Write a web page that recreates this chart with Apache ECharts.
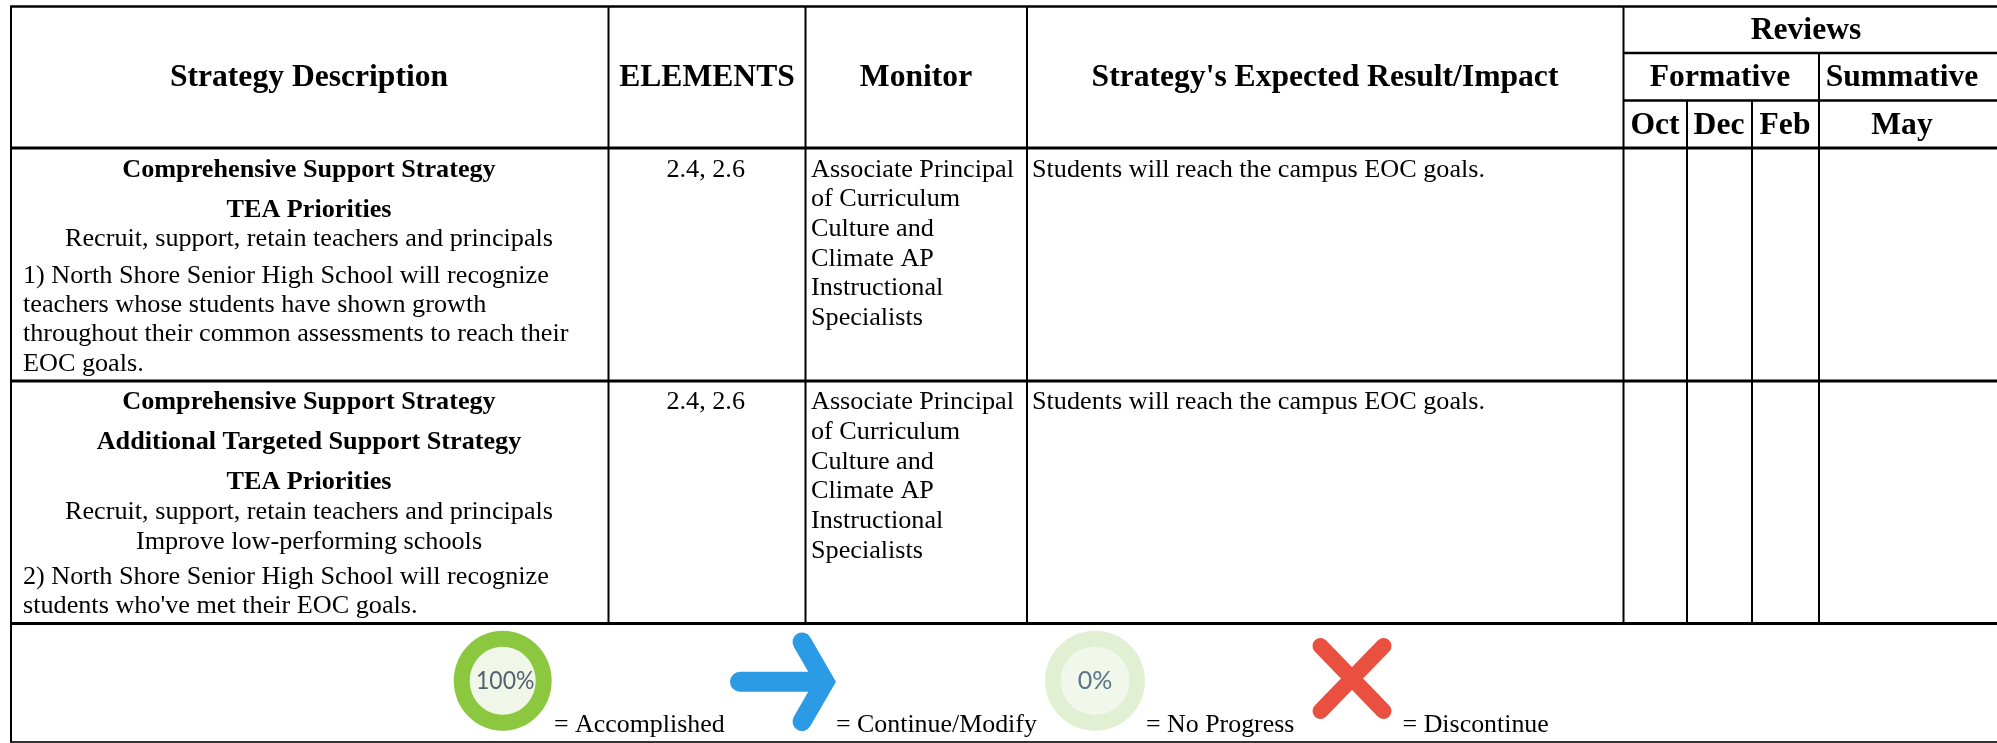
<!DOCTYPE html>
<html>
<head>
<meta charset="utf-8">
<style>html,body{margin:0;padding:0;background:#fff}#c{width:1997px;height:743px}</style>
<script src="https://cdn.jsdelivr.net/npm/echarts@6/dist/echarts.min.js"></script>
</head>
<body>
<div id="c"></div>
<script>
// ---- content ----
var headerLabels = ["Strategy Description","ELEMENTS","Monitor","Strategy's Expected Result/Impact"];
var reviewLabels = ["Reviews","Formative","Summative","Oct","Dec","Feb","May"];
var row1Strategy = ["Comprehensive Support Strategy","TEA Priorities","Recruit, support, retain teachers and principals"];
var row1Text = ["1) North Shore Senior High School will recognize","teachers whose students have shown growth","throughout their common assessments to reach their","EOC goals."];
var row2Strategy = ["Comprehensive Support Strategy","Additional Targeted Support Strategy","TEA Priorities","Recruit, support, retain teachers and principals","Improve low-performing schools"];
var row2Text = ["2) North Shore Senior High School will recognize","students who've met their EOC goals."];
var elementsText = "2.4, 2.6";
var monitorLines = ["Associate Principal","of Curriculum","Culture and","Climate AP","Instructional","Specialists"];
var resultText = "Students will reach the campus EOC goals.";
var legendLabels = ["= Accomplished","= Continue/Modify","= No Progress","= Discontinue"];
var progressLabels = ["100%","0%"];

// ---- layout ----
var SERIF = '"Liberation Serif","Times New Roman",serif';
var BODY = 26.2, HEAD = 31.6, LEG = 25.9;
var els = [];
function txt(s,x,base,size,bold,align,font,color,sx){
  els.push({type:'text',silent:true,x:x,y:base-0.3375*size+2,scaleX:sx||1,style:{
    text:s,x:0,y:0,fill:color||'#000',align:align||'left',verticalAlign:'middle',
    font:(bold?'bold ':'')+size+'px '+(font||SERIF)}});
}
function line(x1,y1,x2,y2,w,c){
  els.push({type:'line',silent:true,shape:{x1:x1,y1:y1,x2:x2,y2:y2},style:{stroke:c||'#000',lineWidth:w}});
}
// grid
var L=11,R=1997,T=6.5;
line(L-1,T,R,T,2.5);
line(L-1,148,R,148,3);
line(L-1,381,R,381,3);
line(L-1,623.5,R,623.5,3);
line(L-1,742,R,742,2,'#333');
line(1624,53,R,53,2.5);
line(1624,100.5,R,100.5,2.5);
line(L,T,L,742,2);
[608.5,805.5].forEach(function(x){line(x,T,x,623.5,2);});
line(1027,T,1027,623.5,2);
line(1623.5,T,1623.5,623.5,2);
line(1687,100.5,1687,623.5,2);
line(1752,100.5,1752,623.5,2);
line(1819,53,1819,623.5,2);
// header
var hx=[309,707,916,1325];
headerLabels.forEach(function(s,i){txt(s,hx[i],86,HEAD,true,'center');});
var rx=[1806,1720,1902,1655,1719,1785,1902], ry=[39,86,86,134,134,134,134];
reviewLabels.forEach(function(s,i){txt(s,rx[i],ry[i],HEAD,true,'center');});
// row 1
var r1b=[176.7,217,246], r1t=[282.7,312,341,370.5];
row1Strategy.forEach(function(s,i){txt(s,309,r1b[i],BODY,i<2,'center');});
row1Text.forEach(function(s,i){txt(s,23,r1t[i],BODY);});
// row 2
var r2b=[409.3,449.3,489,518.7,548.7], r2t=[584,613.3];
row2Strategy.forEach(function(s,i){txt(s,309,r2b[i],BODY,i<3,'center');});
row2Text.forEach(function(s,i){txt(s,23,r2t[i],BODY);});
// elements, monitor, result
[176.7,409.3].forEach(function(b){
  txt(elementsText,705.7,b,BODY,false,'center');
  txt(resultText,1032,b,BODY);
  monitorLines.forEach(function(s,i){txt(s,811,b+i*29.65,BODY);});
});
// legend icons
function ring(cx,cy,a,b,c,d,outer,inner){
  els.push({type:'ellipse',silent:true,shape:{cx:cx,cy:cy,rx:a,ry:b},style:{fill:outer}});
  els.push({type:'ellipse',silent:true,shape:{cx:cx,cy:cy,rx:c,ry:d},style:{fill:inner}});
}
ring(502.7,680.7,49,50,33,34,'#8BC83F','#F0F7E9');
txt(progressLabels[0],476,687,25,false,'left','"Lato"','#55616E',0.92);
ring(1095,680.7,50,50,34.5,34,'#E1EFD3','#F1F7EA');
txt(progressLabels[1],1095,687,25,false,'center','"Lato"','#5A7488');
// arrow
els.push({type:'line',silent:true,shape:{x1:740,y1:681.7,x2:818,y2:681.7},style:{stroke:'#2A9BE4',lineWidth:20,lineCap:'round'}});
els.push({type:'polyline',silent:true,shape:{points:[[802,642],[825,681.7],[802,721.5]]},style:{stroke:'#2A9BE4',fill:null,lineWidth:19,lineCap:'round',lineJoin:'miter'}});
// cross
els.push({type:'line',silent:true,shape:{x1:1320.5,y1:646,x2:1383.5,y2:711},style:{stroke:'#EA5040',lineWidth:16,lineCap:'round'}});
els.push({type:'line',silent:true,shape:{x1:1383.5,y1:646,x2:1320.5,y2:711},style:{stroke:'#EA5040',lineWidth:16,lineCap:'round'}});
// legend labels
var lx=[554,836,1146,1402.6];
legendLabels.forEach(function(s,i){txt(s,lx[i],731.7,LEG);});

var chart=echarts.init(document.getElementById('c'),null,{renderer:'canvas'});
chart.setOption({animation:false,backgroundColor:'#fff',graphic:{elements:els}});
</script>
</body>
</html>
